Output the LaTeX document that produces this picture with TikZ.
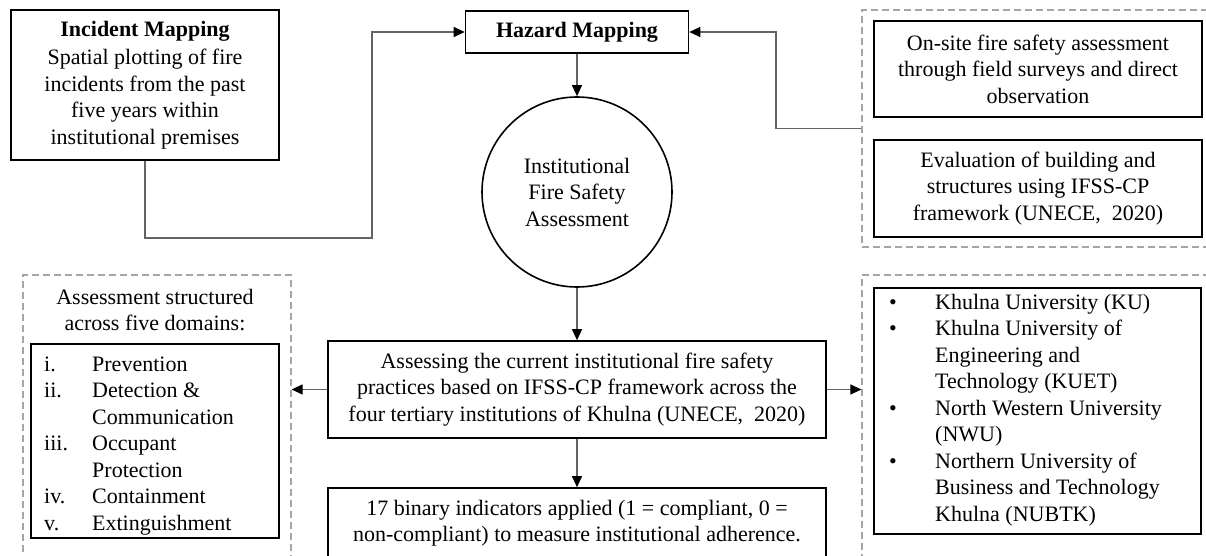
\documentclass[tikz,border=0pt]{standalone}
\usepackage{fontspec}
\setmainfont{Liberation Serif}
\usetikzlibrary{arrows.meta}
\definecolor{conncol}{RGB}{100,100,100}
\definecolor{dashcol}{RGB}{165,165,165}
\begin{document}
\begin{tikzpicture}[x=1pt,y=-1pt,
  box/.style={draw=black,line width=1.6pt,inner sep=0pt,align=center},
  grp/.style={draw=dashcol,line width=1.2pt,dash pattern=on 7pt off 4pt,inner sep=0pt},
  conn/.style={draw=conncol,line width=1.2pt},
  arr/.style={conn,-{Triangle[length=11pt,width=10pt,color=black]}},
  txt/.style={font=\fontsize{22}{26.5}\selectfont}
]
\useasboundingbox (0,0) rectangle (1206,556);
\clip (0,0) rectangle (1206,556);

% top left
\node[box,txt,minimum width=268pt,minimum height=150pt] (inc) at (145,85)
  {\textbf{Incident Mapping}\\[2pt]Spatial plotting of fire\\incidents from the past\\five years within\\institutional premises};
\node[box,txt,minimum width=223pt,minimum height=42pt] (haz) at (577,32) {\textbf{Hazard Mapping}};
\node[draw=black,line width=1.6pt,circle,minimum size=190pt,inner sep=0pt,txt,align=center] (circ) at (577,192)
  {Institutional\\Fire Safety\\Assessment};

% top right group
\node[grp,minimum width=346pt,minimum height=237pt] (grpA) at (1035,128.5) {};
\node[box,txt,minimum width=328pt,minimum height=96pt] (onsite) at (1038,69)
  {On-site fire safety assessment\\through field surveys and direct\\observation};
\node[box,txt,minimum width=328pt,minimum height=97pt] (eval) at (1038,188.5)
  {Evaluation of building and\\structures using IFSS-CP\\framework (UNECE,~ 2020)};

% bottom left group
\node[grp,minimum width=268pt,minimum height=305pt] (grpB) at (157,427.5) {};
\node[txt,align=center,inner sep=0pt] (dhead) at (155,310) {Assessment structured\\across five domains:};
\node[box,minimum width=248pt,minimum height=194pt] (dom) at (155,441) {};
\node[txt,anchor=west,inner sep=0pt] (domlist) at (44,445.5)
  {\begin{tabular}{@{}p{48pt}@{}l@{}}
   i. & Prevention\\
   ii. & Detection \&\\
       & Communication\\
   iii. & Occupant\\
        & Protection\\
   iv. & Containment\\
   v. & Extinguishment
   \end{tabular}};

% middle
\node[box,txt,minimum width=498pt,minimum height=97pt] (mid) at (577,389.5)
  {Assessing the current institutional fire safety\\practices based on IFSS-CP framework across the\\four tertiary institutions of Khulna (UNECE,~ 2020)};
\node[box,minimum width=498pt,minimum height=97pt] (bin) at (577,536.5) {};
\node[txt,align=center,inner sep=0pt] (bintxt) at (577,523)
  {17 binary indicators applied (1 = compliant, 0 =\\non-compliant) to measure institutional adherence.};

% bottom right group
\node[grp,minimum width=346pt,minimum height=305pt] (grpC) at (1035,427.5) {};
\node[box,minimum width=327pt,minimum height=246pt] (uni) at (1037.5,411) {};
\node[txt,anchor=west,inner sep=0pt] (unilist) at (889,410)
  {\begin{tabular}{@{}p{46pt}@{}l@{}}
   \textbullet & Khulna University (KU)\\
   \textbullet & Khulna University of\\
               & Engineering and\\
               & Technology (KUET)\\
   \textbullet & North Western University\\
               & (NWU)\\
   \textbullet & Northern University of\\
               & Business and Technology\\
               & Khulna (NUBTK)
   \end{tabular}};

% connectors
\coordinate (c1) at (372,238);
\coordinate (c2) at (776,128.5);
\draw[arr] (inc.south) |- (c1) |- (haz.west);
\draw[arr] (grpA.west) -- (c2) |- (haz.east);
\draw[arr] (haz.south) -- (circ.north);
\draw[arr] (circ.south) -- (mid.north);
\draw[arr] (mid.south) -- (bin.north);
\draw[arr] (mid.west) -- (mid.west -| grpB.east);
\draw[arr] (mid.east) -- (mid.east -| grpC.west);
\end{tikzpicture}
\end{document}
